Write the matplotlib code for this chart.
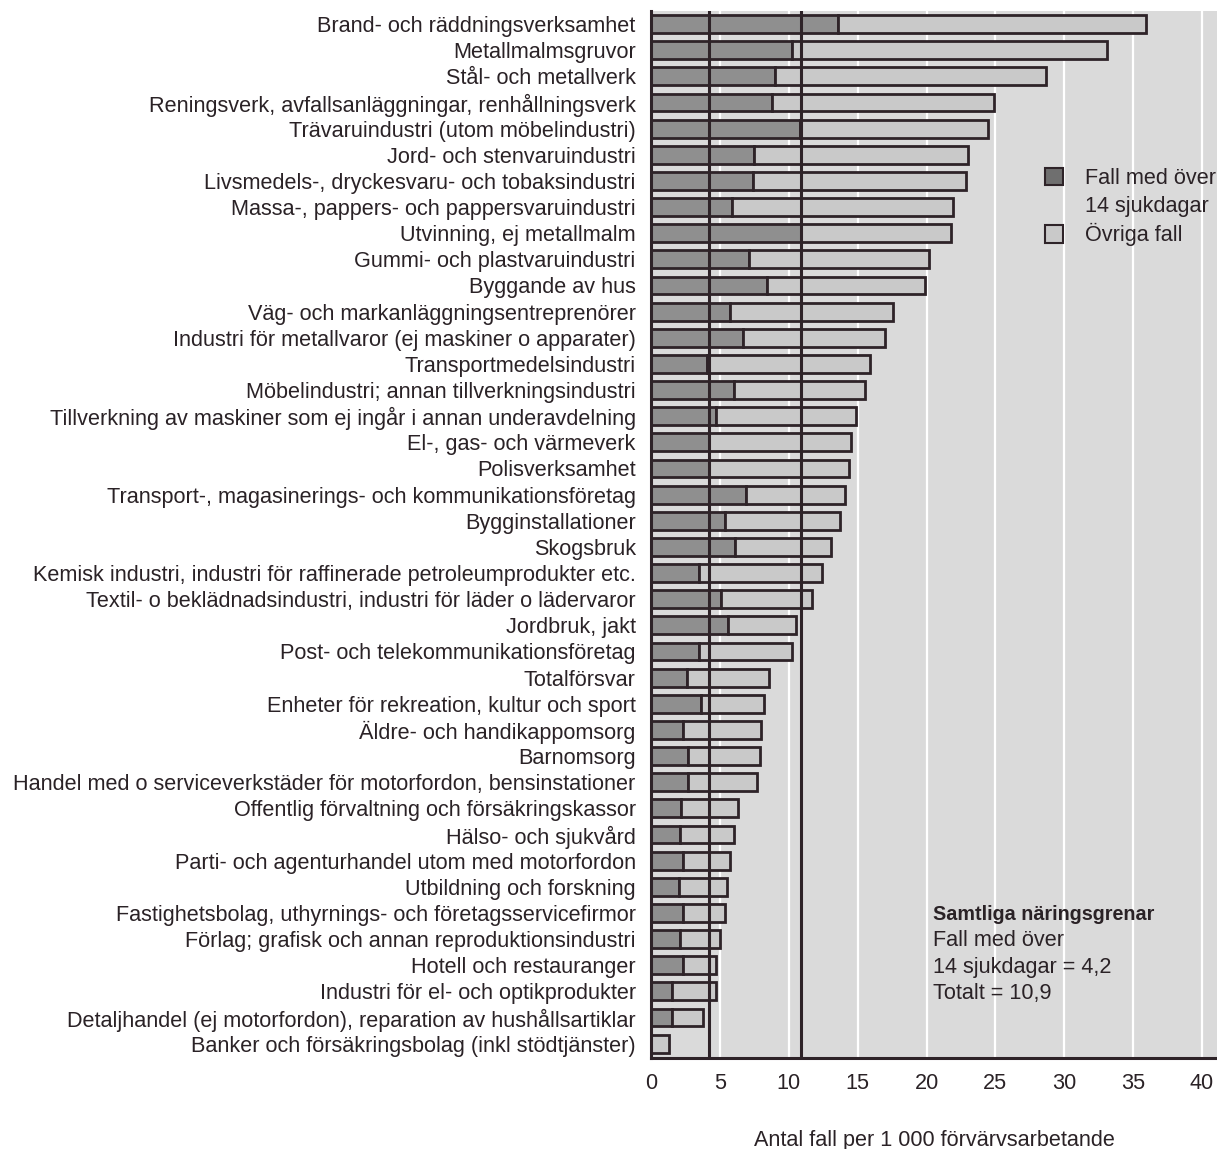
import matplotlib
matplotlib.use("Agg")
import matplotlib.pyplot as plt
from matplotlib.patches import Patch

plt.rcParams['font.family'] = ['Liberation Sans', 'DejaVu Sans']

categories = [
    "Brand- och räddningsverksamhet",
    "Metallmalmsgruvor",
    "Stål- och metallverk",
    "Reningsverk, avfallsanläggningar, renhållningsverk",
    "Trävaruindustri (utom möbelindustri)",
    "Jord- och stenvaruindustri",
    "Livsmedels-, dryckesvaru- och tobaksindustri",
    "Massa-, pappers- och pappersvaruindustri",
    "Utvinning, ej metallmalm",
    "Gummi- och plastvaruindustri",
    "Byggande av hus",
    "Väg- och markanläggningsentreprenörer",
    "Industri för metallvaror (ej maskiner o apparater)",
    "Transportmedelsindustri",
    "Möbelindustri; annan tillverkningsindustri",
    "Tillverkning av maskiner som ej ingår i annan underavdelning",
    "El-, gas- och värmeverk",
    "Polisverksamhet",
    "Transport-, magasinerings- och kommunikationsföretag",
    "Bygginstallationer",
    "Skogsbruk",
    "Kemisk industri, industri för raffinerade petroleumprodukter etc.",
    "Textil- o beklädnadsindustri, industri för läder o lädervaror",
    "Jordbruk, jakt",
    "Post- och telekommunikationsföretag",
    "Totalförsvar",
    "Enheter för rekreation, kultur och sport",
    "Äldre- och handikappomsorg",
    "Barnomsorg",
    "Handel med o serviceverkstäder för motorfordon, bensinstationer",
    "Offentlig förvaltning och försäkringskassor",
    "Hälso- och sjukvård",
    "Parti- och agenturhandel utom med motorfordon",
    "Utbildning och forskning",
    "Fastighetsbolag, uthyrnings- och företagsservicefirmor",
    "Förlag; grafisk och annan reproduktionsindustri",
    "Hotell och restauranger",
    "Industri för el- och optikprodukter",
    "Detaljhandel (ej motorfordon), reparation av hushållsartiklar",
    "Banker och försäkringsbolag (inkl stödtjänster)",
]

# Total cases per 1 000 employed
totalt = [35.9, 33.1, 28.7, 24.9, 24.5, 23.0, 22.9, 21.9, 21.8, 20.2,
          19.9, 17.6, 17.0, 15.9, 15.5, 14.9, 14.5, 14.4, 14.1, 13.7,
          13.1, 12.4, 11.7, 10.5, 10.2, 8.6, 8.2, 8.0, 7.9, 7.7,
          6.3, 6.0, 5.7, 5.5, 5.4, 5.0, 4.7, 4.7, 3.8, 1.3]

# Cases with more than 14 sick days
over14 = [13.6, 10.2, 9.0, 8.8, 10.8, 7.5, 7.4, 5.9, 10.9, 7.1,
          8.4, 5.7, 6.7, 4.1, 6.0, 4.7, 4.2, 4.2, 6.9, 5.4,
          6.1, 3.5, 5.1, 5.6, 3.5, 2.6, 3.6, 2.3, 2.7, 2.7,
          2.2, 2.1, 2.3, 2.0, 2.3, 2.1, 2.3, 1.5, 1.5, 0.0]

ovriga = [t - o for t, o in zip(totalt, over14)]

samtliga_over14 = 4.2
samtliga_totalt = 10.9

xticks = [0, 5, 10, 15, 20, 25, 30, 35, 40]

FS = 15.6

W, H = 1217, 1149
fig = plt.figure(figsize=(W / 100, H / 100), dpi=100)
fig.patch.set_facecolor("white")

left_px, right_px, top_px, bottom_px = 651, 1217, 11, 1058
ax = fig.add_axes([left_px / W, 1 - bottom_px / H,
                   (right_px - left_px) / W, (bottom_px - top_px) / H])

bg = "#dadada"
dark = "#8f8f8f"
light = "#c9c9c9"
edge = "#2e2328"
txt = "#2a2226"

ax.set_facecolor(bg)
ax.set_xlim(0, (right_px - left_px) / 13.775)
ax.set_ylim(len(categories) - 0.45, -0.5)

for x in xticks[1:]:
    ax.axvline(x, color="white", lw=1.6, zorder=0.5)

y = list(range(len(categories)))
ax.barh(y, over14, height=0.68, color=dark, edgecolor=edge, linewidth=2.0,
        zorder=2, label="Fall med över 14 sjukdagar")
ax.barh(y, ovriga, left=over14, height=0.68, color=light, edgecolor=edge,
        linewidth=2.0, zorder=2, label="Övriga fall")

ax.axvline(samtliga_over14, color=edge, lw=2.2, zorder=3)
ax.axvline(samtliga_totalt, color=edge, lw=2.2, zorder=3)

ax.set_yticks(y)
ax.set_yticklabels(categories, fontsize=FS, color=txt)
ax.set_xticks(xticks)
ax.set_xticklabels([str(v) for v in xticks], fontsize=FS, color=txt)
ax.tick_params(axis="both", length=0)
ax.tick_params(axis="y", pad=11)
ax.tick_params(axis="x", pad=11)
ax.set_xlabel("Antal fall per 1 000 förvärvsarbetande", fontsize=FS,
              color=txt, labelpad=26)

for s in ["top", "right"]:
    ax.spines[s].set_visible(False)
for s in ["left", "bottom"]:
    ax.spines[s].set_color(edge)
    ax.spines[s].set_linewidth(2.2)
    ax.spines[s].set_zorder(4)

handles = [Patch(facecolor="#6f6f6f", edgecolor=edge, linewidth=1.5),
           Patch(facecolor="none", edgecolor="none"),
           Patch(facecolor=light, edgecolor=edge, linewidth=1.5)]
labels = ["Fall med över", "14 sjukdagar", "Övriga fall"]
leg = fig.legend(handles, labels, loc="upper left",
                 bbox_to_anchor=(1045 / W, 1 - 168 / H),
                 frameon=False, fontsize=FS, handlelength=0.85,
                 handleheight=0.85, handletextpad=1.0, labelspacing=0.3,
                 borderaxespad=0, borderpad=0)
for t in leg.get_texts():
    t.set_color(txt)

fig.text(933 / W, 1 - 915 / H, "Samtliga näringsgrenar", fontsize=14.2,
         fontweight="bold", color=txt, va="center", ha="left")
fig.text(933 / W, 1 - 941 / H, "Fall med över", fontsize=FS,
         color=txt, va="center", ha="left")
fig.text(933 / W, 1 - 967 / H,
         "14 sjukdagar = " + f"{samtliga_over14:.1f}".replace(".", ","),
         fontsize=FS, color=txt, va="center", ha="left")
fig.text(933 / W, 1 - 994 / H,
         "Totalt = " + f"{samtliga_totalt:.1f}".replace(".", ","),
         fontsize=FS, color=txt, va="center", ha="left")

fig.savefig("out.png", dpi=100, facecolor=fig.get_facecolor())
